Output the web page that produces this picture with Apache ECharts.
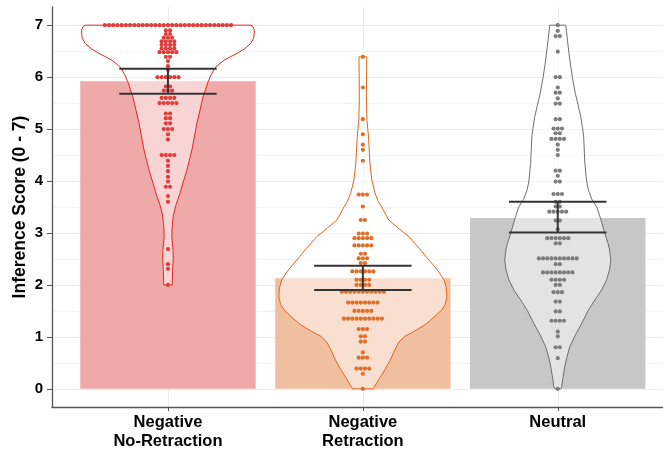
<!DOCTYPE html>
<html>
<head>
<meta charset="utf-8">
<script src="https://cdn.jsdelivr.net/npm/echarts@6/dist/echarts.min.js"></script>
<style>
  html, body { margin: 0; padding: 0; background: #fff; }
  #chart { width: 663px; height: 452px; }
</style>
</head>
<body>
<div id="chart"></div>
<script>
const categories = ['Negative\nNo-Retraction', 'Negative\nRetraction', 'Neutral'];
const means = [5.92, 2.13, 3.29];
const ciLow = [5.68, 1.9, 3.01];
const ciHigh = [6.16, 2.37, 3.6];
const yTicks = [0, 1, 2, 3, 4, 5, 6, 7];
const yMinor = [0.5, 1.5, 2.5, 3.5, 4.5, 5.5, 6.5];

// dot rows: [score, participants]
const dotsNoRetraction = [
  [7.0, 31], [6.9, 2], [6.83, 2], [6.76, 3], [6.69, 4], [6.62, 4], [6.55, 4], [6.48, 5],
  [6.39, 2], [6.31, 1], [6.21, 1], [6.14, 1], [6.0, 6], [5.82, 2], [5.74, 3], [5.6, 4],
  [5.5, 5], [5.3, 2], [5.21, 2], [5.11, 2], [5.0, 3], [4.9, 1], [4.8, 1], [4.5, 4],
  [4.39, 1], [4.29, 1], [4.19, 1], [4.08, 1], [3.99, 1], [3.89, 2], [3.71, 1], [3.6, 1],
  [2.69, 1], [2.4, 1], [2.31, 1], [2.0, 1]
];
const dotsRetraction = [
  [6.39, 1], [5.8, 1], [5.19, 1], [4.9, 1], [4.7, 1], [4.6, 1], [4.39, 1], [3.74, 3],
  [3.51, 1], [3.25, 2], [2.99, 3], [2.9, 5], [2.76, 5], [2.6, 2], [2.51, 3], [2.42, 2],
  [2.26, 6], [2.1, 4], [2.0, 4], [1.87, 11], [1.66, 8], [1.5, 5], [1.35, 10], [1.15, 3],
  [1.01, 2], [0.91, 2], [0.7, 1], [0.6, 3], [0.39, 4], [0.29, 1], [0.0, 1]
];
const dotsNeutral = [
  [7.0, 1], [6.89, 1], [6.79, 2], [6.49, 1], [6.0, 2], [5.8, 1], [5.7, 2], [5.59, 1],
  [5.49, 2], [5.19, 2], [5.01, 3], [4.92, 2], [4.81, 4], [4.7, 1], [4.6, 1], [4.5, 1],
  [4.2, 2], [4.1, 1], [3.99, 2], [3.75, 3], [3.6, 2], [3.51, 2], [3.41, 5], [3.24, 2],
  [3.07, 1], [2.9, 6], [2.8, 2], [2.51, 10], [2.4, 2], [2.24, 8], [2.1, 4], [2.0, 2],
  [1.86, 3], [1.68, 2], [1.49, 2], [1.31, 4], [1.1, 1], [1.01, 1], [0.8, 2], [0.59, 1],
  [0.0, 1]
];

// violin outline, top to bottom: [score, half width in category units]
const violinNoRetraction = [
  [7.0, 0.426], [6.97, 0.436], [6.92, 0.442], [6.85, 0.443], [6.75, 0.44], [6.65, 0.425],
  [6.55, 0.395], [6.47, 0.36], [6.4, 0.325], [6.33, 0.29], [6.25, 0.262], [6.17, 0.24],
  [6.05, 0.222], [5.9, 0.205], [5.62, 0.18], [5.12, 0.149], [4.6, 0.123], [4.4, 0.11],
  [4.21, 0.097], [4.0, 0.08], [3.77, 0.062], [3.55, 0.042], [3.35, 0.028], [3.1, 0.021],
  [2.9, 0.02], [2.67, 0.026], [2.5, 0.027], [2.3, 0.024], [2.04, 0.022], [2.0, 0.022]
];
const violinRetraction = [
  [6.39, 0.02], [5.62, 0.018], [5.17, 0.021], [4.85, 0.029], [4.35, 0.036], [4.02, 0.046],
  [3.77, 0.062], [3.6, 0.08], [3.5, 0.097], [3.25, 0.133], [3.1, 0.18], [2.93, 0.236],
  [2.7, 0.29], [2.48, 0.339], [2.3, 0.38], [2.1, 0.416], [1.95, 0.428], [1.77, 0.431],
  [1.62, 0.422], [1.52, 0.405], [1.38, 0.365], [1.23, 0.318], [1.1, 0.26], [1.01, 0.215],
  [0.9, 0.185], [0.75, 0.164], [0.55, 0.14], [0.37, 0.113], [0.2, 0.085], [0.02, 0.056],
  [0.0, 0.054]
];
const violinNeutral = [
  [7.0, 0.041], [6.7, 0.05], [6.33, 0.062], [6.0, 0.075], [5.69, 0.09], [5.45, 0.105],
  [5.24, 0.118], [5.0, 0.128], [4.85, 0.133], [4.34, 0.139], [4.0, 0.148], [3.83, 0.157],
  [3.65, 0.175], [3.5, 0.2], [3.25, 0.222], [3.0, 0.241], [2.8, 0.258], [2.67, 0.266],
  [2.48, 0.272], [2.3, 0.266], [2.1, 0.251], [1.9, 0.225], [1.71, 0.19], [1.5, 0.155],
  [1.26, 0.123], [1.05, 0.092], [0.81, 0.062], [0.6, 0.046], [0.43, 0.036], [0.2, 0.026],
  [0.04, 0.02], [0.0, 0.015]
];

const barColors = ['#f0a9a9', '#f0bf9f', '#c7c7c7'];
const lineColors = ['#e3261f', '#e0651c', '#6e6e6e'];
const dotColors = ['#e03c3a', '#e06e28', '#7d7d7d'];

const xMin = 0.405;
const xMax = 3.54;
const dotStep = 0.0216;
const font = '"Liberation Sans", Arial, sans-serif';

function stackDots(rows, center) {
  const out = [];
  rows.forEach(([score, n]) => {
    for (let i = 0; i < n; i++) {
      out.push([center + (i - (n - 1) / 2) * dotStep, score]);
    }
  });
  return out;
}

function violinSeries(profile, idx) {
  const c = idx + 1;
  return {
    type: 'custom',
    z: 2,
    silent: true,
    data: [[c, profile[0][0]]],
    encode: { x: 0, y: 1 },
    renderItem: (params, api) => {
      const right = profile.map(([s, w]) => api.coord([c + w, s]));
      const left = profile.slice().reverse().map(([s, w]) => api.coord([c - w, s]));
      return {
        type: 'polygon',
        shape: { points: right.concat(left) },
        style: { fill: 'rgba(255,255,255,0.5)', stroke: lineColors[idx], lineWidth: 1, lineJoin: 'round' }
      };
    }
  };
}

const dotGroups = [dotsNoRetraction, dotsRetraction, dotsNeutral];
const violins = [violinNoRetraction, violinRetraction, violinNeutral];

const chart = echarts.init(document.getElementById('chart'));

chart.setOption({
  animation: false,
  grid: { left: 52, top: 7, right: 0, bottom: 45 },
  xAxis: {
    type: 'value',
    min: xMin,
    max: xMax,
    axisLine: { show: true, onZero: false, lineStyle: { color: '#555', width: 1.3 } },
    axisTick: { show: true, customValues: [1, 2, 3], length: 4, lineStyle: { color: '#555' } },
    axisLabel: {
      customValues: [1, 2, 3],
      formatter: v => categories[Math.round(v) - 1],
      fontFamily: font, fontWeight: 'bold', fontSize: 16.5, lineHeight: 19,
      color: '#000', margin: 6
    },
    splitLine: { show: true, lineStyle: { color: '#ebebeb', width: 1 } }
  },
  yAxis: {
    type: 'value',
    min: -0.35,
    max: 7.35,
    name: 'Inference Score (0 - 7)',
    nameLocation: 'middle',
    nameGap: 23,
    nameMoveOverlap: false,
    nameRotate: 90,
    nameTextStyle: { fontFamily: font, fontWeight: 'bold', fontSize: 17.5, color: '#000' },
    axisLine: { show: true, lineStyle: { color: '#555', width: 1.3 } },
    axisTick: { show: true, customValues: yTicks, length: 5, lineStyle: { color: '#555' } },
    axisLabel: {
      customValues: yTicks,
      fontFamily: font, fontWeight: 'bold', fontSize: 15, color: '#000', margin: 9
    },
    splitLine: { show: true, lineStyle: { color: '#ebebeb', width: 1 } }
  },
  series: [
    {
      type: 'custom',
      z: 0,
      silent: true,
      data: yMinor.map(v => [xMin, v]),
      encode: { x: 0, y: 1 },
      renderItem: (params, api) => {
        const a = api.coord([xMin, api.value(1)]);
        const b = api.coord([xMax, api.value(1)]);
        const y = Math.round(a[1]) + 0.5;
        return {
          type: 'line',
          shape: { x1: a[0], y1: y, x2: b[0], y2: y },
          style: { stroke: '#f3f3f3', lineWidth: 1 }
        };
      }
    },
    {
      type: 'custom',
      z: 1,
      silent: true,
      data: means.map((m, i) => [i + 1, m]),
      encode: { x: 0, y: 1 },
      renderItem: (params, api) => {
        const a = api.coord([api.value(0) - 0.45, api.value(1)]);
        const b = api.coord([api.value(0) + 0.45, 0]);
        return {
          type: 'rect',
          shape: { x: a[0], y: a[1], width: b[0] - a[0], height: b[1] - a[1] },
          style: { fill: barColors[params.dataIndex] }
        };
      }
    },
    ...violins.map((v, i) => violinSeries(v, i)),
    ...dotGroups.map((rows, i) => ({
      type: 'scatter',
      z: 3,
      silent: true,
      symbolSize: 4.2,
      itemStyle: { color: dotColors[i], opacity: 1 },
      data: stackDots(rows, i + 1)
    })),
    {
      type: 'custom',
      z: 4,
      silent: true,
      data: means.map((m, i) => [i + 1, ciLow[i], ciHigh[i]]),
      encode: { x: 0, y: [1, 2] },
      renderItem: (params, api) => {
        const x = api.value(0);
        const lo = api.value(1);
        const hi = api.value(2);
        const p1 = api.coord([x, lo]);
        const p2 = api.coord([x, hi]);
        const l1 = api.coord([x - 0.25, lo]);
        const r1 = api.coord([x + 0.25, lo]);
        const l2 = api.coord([x - 0.25, hi]);
        const r2 = api.coord([x + 0.25, hi]);
        const style = { stroke: '#333', lineWidth: 2 };
        return {
          type: 'group',
          children: [
            { type: 'line', shape: { x1: p1[0], y1: p1[1], x2: p2[0], y2: p2[1] }, style },
            { type: 'line', shape: { x1: l1[0], y1: l1[1], x2: r1[0], y2: r1[1] }, style },
            { type: 'line', shape: { x1: l2[0], y1: l2[1], x2: r2[0], y2: r2[1] }, style }
          ]
        };
      }
    }
  ]
});
</script>
</body>
</html>
